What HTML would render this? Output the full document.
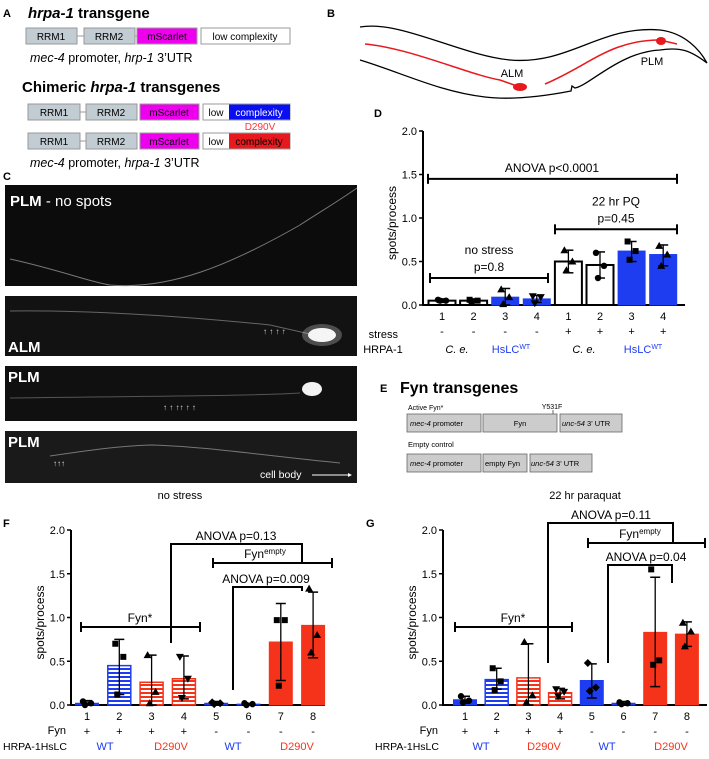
<!DOCTYPE html>
<html><head><meta charset="utf-8">
<style>
html,body{margin:0;padding:0;background:#fff;}
body{width:709px;height:754px;position:relative;overflow:hidden;font-family:"Liberation Sans",Arial,sans-serif;}
svg text{font-family:"Liberation Sans",Arial,sans-serif;}
</style></head>
<body>
<svg id="fig" width="709" height="754" viewBox="0 0 709 754" xmlns="http://www.w3.org/2000/svg">
<defs>
<pattern id="stripeBlue" width="4" height="4" patternUnits="userSpaceOnUse"><rect width="4" height="4" fill="#fff"/><rect width="4" height="2" fill="#1e3cf0"/></pattern>
<pattern id="stripeRed" width="4" height="4" patternUnits="userSpaceOnUse"><rect width="4" height="4" fill="#fff"/><rect width="4" height="2" fill="#f5331a"/></pattern>
</defs>

<!-- Panel A -->
<g>
<text x="3" y="17" font-size="11" font-weight="bold">A</text>
<text x="28" y="18" font-size="15" font-weight="bold"><tspan font-style="italic">hrpa-1</tspan> transgene</text>
<g font-size="10" text-anchor="middle" stroke="#999">
<line x1="77" y1="36" x2="84" y2="36" stroke="#999"/><line x1="135" y1="36" x2="137" y2="36"/>
<rect x="26" y="28" width="51" height="16" fill="#c2ccd3"/>
<rect x="84" y="28" width="51" height="16" fill="#c2ccd3"/>
<rect x="137" y="28" width="60" height="16" fill="#ee00ee"/>
<rect x="201" y="28" width="89" height="16" fill="#fff"/>
</g>
<g font-size="10" text-anchor="middle">
<text x="51" y="40">RRM1</text><text x="109" y="40">RRM2</text><text x="167" y="40">mScarlet</text><text x="245" y="40">low complexity</text>
</g>
<text x="30" y="62" font-size="12.5"><tspan font-style="italic">mec-4</tspan> promoter, <tspan font-style="italic">hrp-1</tspan> 3’UTR</text>
<text x="22" y="92" font-size="15" font-weight="bold">Chimeric <tspan font-style="italic">hrpa-1</tspan> transgenes</text>
<g stroke="#999">
<line x1="80" y1="112" x2="86" y2="112"/><line x1="80" y1="141" x2="86" y2="141"/>
<rect x="28" y="104" width="52" height="16" fill="#c2ccd3"/><rect x="86" y="104" width="51" height="16" fill="#c2ccd3"/>
<rect x="140" y="104" width="59" height="16" fill="#ee00ee"/><rect x="203" y="104" width="87" height="16" fill="#fff"/>
<rect x="229" y="104.5" width="61" height="15" fill="#0a0ff0" stroke="none"/>
<rect x="28" y="133" width="52" height="16" fill="#c2ccd3"/><rect x="86" y="133" width="51" height="16" fill="#c2ccd3"/>
<rect x="140" y="133" width="59" height="16" fill="#ee00ee"/><rect x="203" y="133" width="87" height="16" fill="#fff"/>
<rect x="229" y="133.5" width="61" height="15" fill="#e8191e" stroke="none"/>
</g>
<g font-size="10" text-anchor="middle">
<text x="54" y="116">RRM1</text><text x="111" y="116">RRM2</text><text x="169" y="116">mScarlet</text><text x="216" y="116">low</text><text x="259" y="116" fill="#fff">complexity</text>
<text x="54" y="145">RRM1</text><text x="111" y="145">RRM2</text><text x="169" y="145">mScarlet</text><text x="216" y="145">low</text><text x="259" y="145">complexity</text>
<text x="260" y="130" fill="#f33">D290V</text>
</g>
<text x="30" y="167" font-size="12.5"><tspan font-style="italic">mec-4</tspan> promoter, <tspan font-style="italic">hrpa-1</tspan> 3’UTR</text>
</g>

<!-- Panel B -->
<g>
<text x="327" y="17" font-size="11" font-weight="bold">B</text>
<path d="M360,27 C400,20 460,55 510,60 C570,65 600,25 660,30 C685,33 700,50 707,63 C690,50 680,47 660,50 C620,52 590,85 575,88 L572,86 L571,91 C540,97 510,100 485,97 C440,92 400,72 360,60" fill="none" stroke="#000" stroke-width="1.3"/>
<path d="M365,44 C410,48 470,75 500,80 L517,86 M545,84 C590,65 610,40 660,40 L677,44" fill="none" stroke="#e8191e" stroke-width="1.5"/>
<ellipse cx="520" cy="87" rx="7" ry="4" fill="#e8191e"/>
<ellipse cx="661" cy="41" rx="5" ry="4" fill="#e8191e"/>
<text x="512" y="77" font-size="11" text-anchor="middle">ALM</text>
<text x="652" y="65" font-size="11" text-anchor="middle">PLM</text>
</g>

<!-- Panel C -->
<g>
<text x="3" y="180" font-size="11" font-weight="bold">C</text>
<rect x="5" y="185" width="352" height="101" fill="#0c0c0c"/>
<path d="M10,259 C60,270 90,282 110,285 C170,290 230,265 300,225 C320,212 340,200 357,188" stroke="#777" fill="none" stroke-width="1"/>
<text x="10" y="206" font-size="15" fill="#fff"><tspan font-weight="bold">PLM</tspan> - no spots</text>
<rect x="5" y="296" width="352" height="60" fill="#121212"/>
<path d="M10,311 C100,310 200,318 270,325 L310,334" stroke="#666" fill="none"/>
<ellipse cx="322" cy="335" rx="14" ry="7" fill="#f2f2f2"/><ellipse cx="322" cy="335" rx="20" ry="11" fill="#fff" opacity="0.25"/>
<text x="263" y="334" font-size="8" fill="#ddd">↑ ↑  ↑     ↑</text>
<text x="8" y="352" font-size="15" font-weight="bold" fill="#fff">ALM</text>
<rect x="5" y="366" width="352" height="55" fill="#101010"/>
<path d="M10,398 C150,396 250,396 300,393" stroke="#555" fill="none"/>
<ellipse cx="312" cy="389" rx="10" ry="7" fill="#f2f2f2"/>
<text x="163" y="410" font-size="8" fill="#ddd">↑           ↑        ↑↑       ↑  ↑</text>
<text x="8" y="382" font-size="15" font-weight="bold" fill="#fff">PLM</text>
<rect x="5" y="431" width="352" height="52" fill="#1a1a1a"/>
<path d="M50,456 C90,450 120,446 150,445 C200,446 260,455 340,463" stroke="#777" fill="none"/>
<text x="53" y="466" font-size="8" fill="#ddd">↑↑↑</text>
<text x="8" y="447" font-size="15" font-weight="bold" fill="#fff">PLM</text>
<text x="260" y="478" font-size="10.5" fill="#fff">cell body</text><line x1="312" y1="475" x2="348" y2="475" stroke="#fff"/><path d="M348,473 l4,2 l-4,2z" fill="#fff"/>
<text x="180" y="499" font-size="11" text-anchor="middle">no stress</text>
</g>

<!-- Panel E -->
<g>
<text x="380" y="392" font-size="11" font-weight="bold">E</text>
<text x="400" y="393" font-size="16" font-weight="bold">Fyn transgenes</text>
<text x="408" y="410" font-size="7">Active Fyn*</text>
<text x="552" y="409" font-size="7" text-anchor="middle">Y531F</text><line x1="553" y1="410" x2="553" y2="414" stroke="#000" stroke-width="0.6"/>
<g stroke="#666" fill="#ccc" stroke-width="0.8">
<rect x="407" y="414" width="74" height="18"/><rect x="483" y="414" width="74" height="18"/><rect x="560" y="414" width="62" height="18"/>
<rect x="407" y="454" width="74" height="18"/><rect x="483" y="454" width="44" height="18"/><rect x="530" y="454" width="62" height="18"/>
</g>
<g font-size="7.5">
<text x="410" y="426"><tspan font-style="italic">mec-4</tspan> promoter</text><text x="520" y="426" text-anchor="middle">Fyn</text><text x="562" y="426"><tspan font-style="italic">unc-54</tspan> 3' UTR</text>
<text x="408" y="447">Empty control</text>
<text x="410" y="466"><tspan font-style="italic">mec-4</tspan> promoter</text><text x="485" y="466">empty Fyn</text><text x="531" y="466"><tspan font-style="italic">unc-54</tspan> 3' UTR</text>
</g>
<text x="585" y="499" font-size="11" text-anchor="middle">22 hr paraquat</text>
</g>

<text x="374" y="117" font-size="11" font-weight="bold">D</text>
<text x="3" y="527" font-size="11" font-weight="bold">F</text>
<text x="366" y="527" font-size="11" font-weight="bold">G</text>
<g id="charts"></g>
</svg>

<script>
// ===== Panel D data =====
const dCategories = ['1','2','3','4','1','2','3','4'];
const dValues = [0.05, 0.05, 0.09, 0.07, 0.50, 0.46, 0.62, 0.58];
const dErrLow = [0.03, 0.03, 0.00, 0.03, 0.37, 0.31, 0.50, 0.45];
const dErrHigh = [0.07, 0.07, 0.19, 0.11, 0.63, 0.61, 0.73, 0.69];
const dPoints = [[0.06,0.05,0.05],[0.06,0.05,0.04],[0.18,0.09,0.01],[0.1,0.09,0.02],[0.63,0.5,0.4],[0.6,0.45,0.31],[0.73,0.62,0.52],[0.68,0.58,0.45]];
const dStress = ['-','-','-','-','+','+','+','+'];
const dYTicks = ['0.0','0.5','1.0','1.5','2.0'];

// ===== Panel F data =====
const fCategories = ['1','2','3','4','5','6','7','8'];
const fValues = [0.02, 0.45, 0.26, 0.30, 0.02, 0.01, 0.72, 0.91];
const fErrLow = [0.0, 0.12, 0.0, 0.07, 0.0, 0.0, 0.28, 0.54];
const fErrHigh = [0.05, 0.75, 0.57, 0.56, 0.04, 0.02, 1.16, 1.29];
const fPoints = [[0.04,0.02,0.0],[0.7,0.55,0.12],[0.57,0.15,0.02],[0.55,0.3,0.08],[0.03,0.02,0.01],[0.02,0.01,0.0],[0.97,0.97,0.22],[1.33,0.8,0.6]];
const fFyn = ['+','+','+','+','-','-','-','-'];

// ===== Panel G data =====
const gCategories = ['1','2','3','4','5','6','7','8'];
const gValues = [0.06, 0.29, 0.31, 0.14, 0.28, 0.02, 0.83, 0.81];
const gErrLow = [0.02, 0.18, 0.0, 0.07, 0.08, 0.0, 0.21, 0.67];
const gErrHigh = [0.10, 0.42, 0.70, 0.19, 0.47, 0.04, 1.46, 0.95];
const gPoints = [[0.1,0.05,0.03],[0.42,0.27,0.17],[0.72,0.11,0.03],[0.18,0.15,0.1],[0.48,0.2,0.16],[0.03,0.02,0.01],[1.55,0.51,0.46],[0.94,0.84,0.67]];
const fgYTicks = ['0.0','0.5','1.0','1.5','2.0'];

const NS='http://www.w3.org/2000/svg';
const root=document.getElementById('charts');
function mk(tag,attrs,parent){const e=document.createElementNS(NS,tag);for(const k in attrs)e.setAttribute(k,attrs[k]);(parent||root).appendChild(e);return e;}
function txt(x,y,s,size,attrs,parent){const t=mk('text',Object.assign({x:x,y:y,'font-size':size,'text-anchor':'middle'},attrs||{}),parent);t.textContent=s;return t;}

function chart(o){
  const g=mk('g',{});
  
  
  const ys=v=>o.y0-v*(o.y0-o.yTop)/2;
  const xs=i=>o.x1+o.step*i;
  mk('line',{x1:o.ax,y1:o.yTop,x2:o.ax,y2:o.y0+1,stroke:'#000','stroke-width':2},g);
  mk('line',{x1:o.ax,y1:o.y0,x2:o.axEnd,y2:o.y0,stroke:'#000','stroke-width':2},g);
  o.ticks.forEach((t,i)=>{const y=ys(parseFloat(t));mk('line',{x1:o.ax-4,y1:y,x2:o.ax,y2:y,stroke:'#000','stroke-width':1.5},g);txt(o.ax-6,y+4,t,11,{'text-anchor':'end'},g);});
  txt(0,0,'spots/process',12,{transform:`translate(${o.ax-27},${(o.y0+o.yTop)/2+5}) rotate(-90)`},g);
  o.values.forEach((v,i)=>{
    const cx=xs(i), w=o.bw, st=o.styles[i];
    const b=mk('rect',{x:cx-w/2,y:ys(v),width:w,height:Math.max(o.y0-ys(v),0.5),fill:st.fill,stroke:st.stroke,'stroke-width':st.sw},g);
    
    
    const lo=ys(o.lo[i]),hi=ys(o.hi[i]);
    mk('line',{x1:cx,y1:lo,x2:cx,y2:hi,stroke:'#000','stroke-width':1.3},g);
    mk('line',{x1:cx-5,y1:lo,x2:cx+5,y2:lo,stroke:'#000','stroke-width':1.5},g);
    mk('line',{x1:cx-5,y1:hi,x2:cx+5,y2:hi,stroke:'#000','stroke-width':1.5},g);
    const sh=o.shapes[i];
    o.points[i].forEach((p,j)=>{
      const px=cx+[-4,4,-2][j], py=ys(p);
      let m;
      if(sh==='c') m=mk('circle',{cx:px,cy:py,r:3.2,fill:'#000'},g);
      else if(sh==='s') m=mk('rect',{x:px-3,y:py-3,width:6,height:6,fill:'#000'},g);
      else if(sh==='t') m=mk('path',{d:`M${px},${py-4}l4,7h-8z`,fill:'#000'},g);
      else if(sh==='v') m=mk('path',{d:`M${px},${py+4}l4,-7h-8z`,fill:'#000'},g);
      else m=mk('path',{d:`M${px},${py-4}l4,4l-4,4l-4,-4z`,fill:'#000'},g);
      
      
    });
    txt(cx,o.y0+15,o.cats[i],11,{},g);
    txt(cx,o.y0+30,o.row2[i],11,{},g);
  });
  return {g,ys,xs};
}
function bracket(g,x1,x2,y,caps){
  mk('line',{x1:x1,y1:y,x2:x2,y2:y,stroke:'#000','stroke-width':2},g);
  if(caps){mk('line',{x1:x1,y1:y-5,x2:x1,y2:y+5,stroke:'#000','stroke-width':2},g);mk('line',{x1:x2,y1:y-5,x2:x2,y2:y+5,stroke:'#000','stroke-width':2},g);}
}
function elbow(g,xl,yl,x2,y,yr){mk('path',{d:`M${xl},${yl}V${y}H${x2}V${yr}`,fill:'none',stroke:'#000','stroke-width':2},g);}

const W={fill:'#fff',stroke:'#000',sw:2}, B={fill:'#1e3cf0',stroke:'#1e3cf0',sw:1}, R={fill:'#f5331a',stroke:'#f5331a',sw:1};
const BS={fill:'url(#stripeBlue)',stroke:'#1e3cf0',sw:1.5}, RS={fill:'url(#stripeRed)',stroke:'#f5331a',sw:1.5};

// D
const D=chart({name:'chart-d',ax:423,axEnd:685,yTop:131,y0:305,x1:442,step:31.6,bw:27,ticks:dYTicks,values:dValues,lo:dErrLow,hi:dErrHigh,points:dPoints,
  styles:[W,W,B,B,W,W,B,B],shapes:['c','s','t','v','t','c','s','t'],cats:dCategories,row2:dStress});
bracket(D.g,428,677,D.ys(1.45),true);txt(552,D.ys(1.45)-7,'ANOVA p<0.0001',12,{},D.g);
bracket(D.g,555,677,D.ys(0.87),true);txt(616,D.ys(0.87)-24,'22 hr PQ',12,{},D.g);txt(616,D.ys(0.87)-7,'p=0.45',12,{},D.g);
bracket(D.g,430,548,D.ys(0.31),true);txt(489,D.ys(0.31)-24,'no stress',12,{},D.g);txt(489,D.ys(0.31)-7,'p=0.8',12,{},D.g);
txt(383,353,'HRPA-1',11,{},D.g);txt(398,338,'stress',11,{'text-anchor':'end'},D.g);
txt(457,353,'C. e.',11,{'font-style':'italic'},D.g);txt(584,353,'C. e.',11,{'font-style':'italic'},D.g);
const h1=txt(511,353,'HsLC',11,{fill:'#1e3cf0'},D.g);const s1=mk('tspan',{'font-size':7,dy:-4},h1);s1.textContent='WT';
const h2=txt(643,353,'HsLC',11,{fill:'#1e3cf0'},D.g);const s2=mk('tspan',{'font-size':7,dy:-4},h2);s2.textContent='WT';

// F
const F=chart({name:'chart-f',ax:71,axEnd:325,yTop:530,y0:705,x1:87,step:32.3,bw:23,ticks:fgYTicks,values:fValues,lo:fErrLow,hi:fErrHigh,points:fPoints,
  styles:[B,BS,RS,RS,B,B,R,R],shapes:['c','s','t','v','d','c','s','t'],cats:fCategories,row2:fFyn});
elbow(F.g,171,643,302,544,562);txt(236,540,'ANOVA p=0.13',12,{},F.g);
bracket(F.g,213,332,563,true);const fe=txt(265,558,'Fyn',12,{},F.g);const fe1=mk('tspan',{'font-size':8,dy:-4},fe);fe1.textContent='empty';
elbow(F.g,233,690,302,587,591);txt(266,583,'ANOVA p=0.009',12,{},F.g);
bracket(F.g,81,200,627,true);txt(140,622,'Fyn*',12,{},F.g);
txt(3,750,'HRPA-1HsLC',10.5,{'text-anchor':'start'},F.g);txt(66,734,'Fyn',11,{'text-anchor':'end'},F.g);
txt(105,750,'WT',11,{fill:'#1e3cf0'},F.g);txt(171,750,'D290V',11,{fill:'#f5331a'},F.g);txt(233,750,'WT',11,{fill:'#1e3cf0'},F.g);txt(297,750,'D290V',11,{fill:'#f5331a'},F.g);

// G
const G=chart({name:'chart-g',ax:443,axEnd:707,yTop:530,y0:705,x1:465,step:31.7,bw:23,ticks:fgYTicks,values:gValues,lo:gErrLow,hi:gErrHigh,points:gPoints,
  styles:[B,BS,RS,RS,B,B,R,R],shapes:['c','s','t','v','d','c','s','t'],cats:gCategories,row2:fFyn});
elbow(G.g,548,663,673,523,543);txt(611,519,'ANOVA p=0.11',12,{},G.g);
bracket(G.g,588,705,543,true);const ge=txt(640,538,'Fyn',12,{},G.g);const ge1=mk('tspan',{'font-size':8,dy:-4},ge);ge1.textContent='empty';
elbow(G.g,608,663,672,565,583);txt(646,561,'ANOVA p=0.04',12,{},G.g);
bracket(G.g,455,572,627,true);txt(513,622,'Fyn*',12,{},G.g);
txt(375,750,'HRPA-1HsLC',10.5,{'text-anchor':'start'},G.g);txt(438,734,'Fyn',11,{'text-anchor':'end'},G.g);
txt(481,750,'WT',11,{fill:'#1e3cf0'},G.g);txt(544,750,'D290V',11,{fill:'#f5331a'},G.g);txt(607,750,'WT',11,{fill:'#1e3cf0'},G.g);txt(671,750,'D290V',11,{fill:'#f5331a'},G.g);
</script>
</body></html>
